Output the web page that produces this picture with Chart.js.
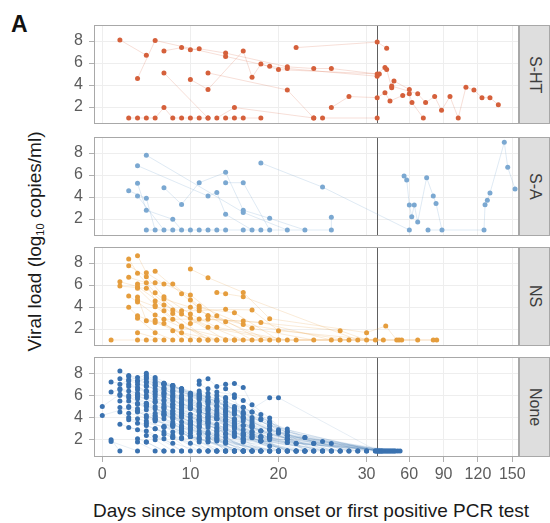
<!DOCTYPE html>
<html><head><meta charset="utf-8">
<script src="https://cdn.jsdelivr.net/npm/chart.js@4/dist/chart.umd.min.js"></script>
<style>
html,body{margin:0;padding:0;background:#fff;}
body{width:550px;height:523px;position:relative;overflow:hidden;font-family:"Liberation Sans",Arial,Helvetica,sans-serif;}
canvas{position:absolute;left:0;}
.strip{position:absolute;left:519px;width:31px;box-sizing:border-box;background:#dedede;border:1px solid #a8a8a8;display:flex;align-items:center;justify-content:center;}
.strip span{writing-mode:vertical-rl;font-size:16px;color:#3d3d3d;line-height:16px;}
#panelLabel{position:absolute;left:11px;top:13px;font-size:23px;line-height:23px;font-weight:bold;color:#111;}
#ytitle{position:absolute;left:-116px;top:232px;width:300px;height:19px;line-height:19px;font-size:19px;color:#1a1a1a;text-align:center;transform:rotate(-90deg);white-space:nowrap;}
#ytitle sub{font-size:11px;vertical-align:-3px;line-height:0;}
#xtitle{position:absolute;left:11px;top:501px;width:600px;height:19px;line-height:19px;font-size:19px;color:#1a1a1a;text-align:center;white-space:nowrap;}
</style>
</head><body>
<div id="panelLabel">A</div>
<div id="ytitle">Viral load (log<sub>10</sub> copies/ml)</div>
<div id="xtitle">Days since symptom onset or first positive PCR test</div>
<script>
// ---------------- data (day, log10 copies/ml) per patient track ----------------
const panelNames = ['S-HT','S-A','NS','None'];
const xTickDays = [0,10,20,30,60,90,120,150];
const xTickLabels = ['0','10','20','30','60','90','120','150'];
const yTicks = [2,4,6,8];

const shtTracks = [
 [[2,8.1],[5,6.7]],
 [[4,4.6],[6,8.05],[14,6.6],[19,5.7],[21,5.5],[32,4.8]],
 [[7,7.1],[9,7.4],[10,7.2],[11,7.3],[14,6.9],[21,5.65],[24,5.5],[26,5.5],[32,5.0],[38.8,5.6],[40.3,5.4],[44.7,3.75],[46.7,4.36],[60.1,3.6]],
 [[7,5.1],[12,1.0]],
 [[10,4.5],[12,3.6],[16,7.1],[17,4.7],[18,5.9],[20,5.4],[33.9,5.0]],
 [[12,5.1],[21,3.55],[24,1.0]],
 [[22,7.4],[32,7.9],[40.3,7.35]],
 [[3,1],[4,1],[5,1],[6,1],[7,1.95],[8,1],[9,1],[10,1],[11,1],[12,1]],
 [[13,1],[15,1.95],[24,1.0]],
 [[14,1],[15,1],[16,1],[18,1]],
 [[25,1],[32,1]],
 [[26,1.95],[28,2.95],[32,2.85],[38.8,3.3],[43.2,2.55],[54.3,3.05],[60.1,3.2],[62.4,2.4],[72.3,1.0]],
 [[44.7,3.9],[67.4,3.2],[74.3,2.4],[82.2,2.95],[88.2,1.7],[95.6,2.95],[102.8,1.0],[109.5,3.8],[116.5,3.55],[123.5,2.85],[130.5,2.85],[137.8,2.2]]
];

const saTracks = [
 [[3,4.57],[5,3.88],[6,1.0]],
 [[4,5.24],[5,2.8],[8,1.97],[9,1.0]],
 [[4,4.1],[7,1.0]],
 [[4,6.85],[12,4.09],[13,4.4],[14,2.43],[17,1.0]],
 [[5,7.8],[16,2.6],[21,1.0]],
 [[7,4.85],[9,3.33],[11,5.3],[14,6.24],[16,2.8],[19,2.06],[23,1.0]],
 [[14,5.3],[16,5.3],[19,1.0]],
 [[18,7.1],[25,4.9],[60.1,1.0]],
 [[5,1],[8,1],[10,1],[11,1],[12,1],[13,1],[14,1],[16,1],[18,1],[26,1],[26,2.15]],
 [[55.5,5.9],[57.8,5.55],[60.1,3.27],[62.2,2.2],[64.4,3.27],[67.4,1.73],[75.2,5.76],[81.0,4.09],[83.4,3.42],[88.6,1.0]],
 [[76.4,1.0],[125.3,1.0],[126.2,3.3],[128.2,3.7],[130.5,4.36],[143.0,8.97],[146.0,6.7],[152.4,4.73]]
];

const nsTracks = [
 [[1,1.0],[4,1.0],[5,1.0],[6,1.0]],
 [[2,6.3],[4,5.85],[7,4.18],[10,2.97],[16,1.0]],
 [[2,5.9],[5,5.7],[8,3.73],[12,2.15],[20,1.0]],
 [[3,8.36],[4,7.06],[6,5.3],[9,3.36],[14,1.0]],
 [[3,7.76],[5,6.76],[7,4.94],[10,3.36],[13,2.15],[21,1.0]],
 [[3,6.7],[5,6.2],[6,4.55],[8,3.42],[12,1.0]],
 [[3,5.0],[4,4.45],[6,3.27],[9,2.15],[15,1.0]],
 [[3,3.97],[4,3.2],[6,2.6],[11,1.0]],
 [[4,8.67],[5,7.12],[7,6.09],[10,5.1],[13,3.2],[18,1.0]],
 [[4,6.09],[6,6.2],[8,6.09],[11,4.09],[17,2.06],[24,1.0]],
 [[4,5.7],[6,4.15],[7,3.67],[9,2.27],[13,1.0]],
 [[4,4.9],[5,2.76],[7,2.5],[10,1.0]],
 [[4,4.64],[6,4.03],[8,2.88],[12,1.0]],
 [[4,2.97],[6,1.67],[8,1.0]],
 [[4,1.67],[7,1.0]],
 [[6,7.24],[9,5.2],[12,3.2],[16,2.42],[28,1.0]],
 [[6,2.8],[9,1.67],[13,1.0]],
 [[7,4.73],[10,3.97],[14,2.67],[19,1.0]],
 [[7,2.88],[11,2.9],[16,2.73],[27,1.85],[30,1.0]],
 [[8,1.85],[9,1.0]],
 [[9,3.67],[11,3.67],[14,3.79],[17,3.73],[20,1.85],[31,1.0]],
 [[10,7.45],[12,6.67],[16,5.33],[19,2.94],[30,1.67],[39.5,2.27],[49.1,1.0]],
 [[10,4.64],[11,3.88],[15,3.48],[20,1.0]],
 [[10,2.5],[12,2.88],[18,2.6],[26,1.0]],
 [[12,3.2],[17,1.0]],
 [[13,5.33],[14,5.2],[16,4.94],[29,1.0]],
 [[11,1.0],[51.1,1.0],[81.0,1.0]],
 [[14,1.0],[53.4,1.0],[84.0,1.0]],
 [[15,1.0],[67.4,1.0]],
 [[22,1.0],[27,1.0],[37.4,1.0]]
];

const noneTracks = [
 [[0,5.0],[2,6.1],[5,5.3],[8,3.9],[12,2.6],[18,1]],
 [[0,4.2],[3,4.9],[6,3.8],[10,2.3],[16,1]],
 [[1,7.2],[3,7.0],[5,6.4],[8,5.0],[11,3.7],[15,2.3],[22,1]],
 [[1,6.3],[2,6.5],[4,6.0],[7,4.9],[10,3.6],[14,1]],
 [[1,2.0],[2,1]],
 [[1,1.85],[4,1]],
 [[2,8.2],[3,7.7],[5,7.2],[7,6.6],[9,5.7],[12,4.4],[15,3.1],[21,1]],
 [[2,7.5],[4,7.3],[6,6.9],[8,6.2],[11,5.0],[14,3.8],[19,2.2],[27,1]],
 [[2,7.0],[3,7.4],[5,7.8],[7,7.0],[10,6.0],[13,4.7],[17,3.2],[25,1]],
 [[2,6.6],[4,6.2],[6,5.6],[9,4.4],[12,3.1],[17,1]],
 [[2,6.0],[3,5.8],[5,5.1],[8,4.1],[11,2.8],[16,1]],
 [[2,5.5],[4,5.2],[7,4.3],[10,3.2],[14,1.9],[20,1]],
 [[2,4.9],[4,4.5],[6,3.9],[9,2.7],[13,1]],
 [[2,4.5],[3,4.0],[5,3.3],[8,2.4],[11,1]],
 [[2,3.4],[4,2.9],[6,2.3],[9,1]],
 [[3,7.8],[4,7.6],[6,7.1],[8,6.6],[11,5.3],[14,4.1],[18,2.8],[26,1]],
 [[3,7.3],[5,6.9],[7,6.3],[9,5.4],[12,4.0],[16,2.6],[23,1]],
 [[3,6.8],[4,6.7],[6,6.3],[9,5.2],[12,3.8],[16,1]],
 [[3,6.4],[5,6.0],[8,5.2],[11,4.1],[15,2.7],[20,1]],
 [[3,6.0],[4,5.7],[7,4.8],[10,3.6],[14,1]],
 [[3,5.5],[5,5.0],[7,4.5],[10,3.4],[13,2.2],[18,1]],
 [[3,5.0],[4,4.8],[6,4.2],[9,3.0],[12,1]],
 [[3,4.4],[5,4.0],[8,3.2],[11,2.1],[15,1]],
 [[3,3.8],[4,3.5],[6,3.0],[8,2.2],[10,1]],
 [[3,3.1],[5,2.8],[7,2.1],[9,1]],
 [[4,7.3],[5,7.5],[7,7.0],[9,6.5],[12,5.4],[15,4.3],[19,2.9],[28,1]],
 [[4,7.0],[6,6.6],[8,6.0],[11,4.9],[14,3.7],[18,2.3],[29,1]],
 [[4,6.5],[5,6.4],[7,5.9],[10,5.0],[13,3.9],[17,2.4],[24,1]],
 [[4,5.9],[6,5.4],[9,4.6],[12,3.5],[16,2.1],[23,1]],
 [[4,5.3],[5,5.1],[8,4.3],[11,3.3],[15,1]],
 [[4,4.6],[6,4.1],[9,3.3],[13,2.0],[19,1]],
 [[4,3.9],[5,3.7],[7,3.1],[10,2.3],[15,1]],
 [[4,2.1],[5,1.8],[7,1]],
 [[4,1.8],[6,1]],
 [[5,8.0],[6,7.6],[8,6.9],[10,6.1],[13,5.5],[16,4.4],[20,2.9],[30,1]],
 [[5,7.6],[7,7.1],[9,6.5],[12,5.8],[15,4.6],[19,3.3],[31,1]],
 [[5,7.2],[6,7.2],[8,6.8],[11,5.9],[14,4.8],[17,3.6],[22,1.7],[33,1]],
 [[5,6.8],[7,6.5],[10,5.6],[13,4.5],[17,3.1],[24,1.7],[36,1]],
 [[5,6.3],[6,6.1],[8,5.6],[11,4.6],[14,3.4],[19,2.0],[38,1]],
 [[5,5.8],[7,5.5],[9,5.0],[12,4.1],[16,2.9],[21,1]],
 [[5,5.3],[6,5.0],[8,4.6],[11,3.7],[14,2.6],[19,1]],
 [[5,4.7],[7,4.3],[10,3.5],[13,2.5],[17,1]],
 [[5,4.2],[6,3.9],[8,3.4],[11,2.6],[14,1.7],[20,1]],
 [[5,3.5],[7,3.2],[9,2.6],[12,1.8],[16,1]],
 [[5,2.4],[6,2.0],[8,1]],
 [[5,1.8],[7,1]],
 [[6,7.4],[7,7.0],[9,6.6],[11,6.1],[14,5.1],[17,4.0],[21,2.7],[32,1]],
 [[6,6.9],[8,6.4],[10,5.9],[13,5.1],[16,3.9],[20,2.6],[34,1]],
 [[6,6.4],[7,6.2],[9,5.8],[12,4.9],[15,3.8],[19,2.5],[25,1.85],[40,1]],
 [[6,5.9],[8,5.5],[10,4.9],[13,3.9],[17,2.2],[23,2.2],[42,1]],
 [[6,5.4],[7,5.2],[9,4.7],[12,3.7],[16,2.4],[22,1]],
 [[6,4.8],[8,4.4],[11,3.8],[14,2.9],[18,1.9],[26,1]],
 [[6,4.4],[7,4.2],[10,3.4],[13,2.4],[18,1]],
 [[6,3.7],[8,3.3],[10,2.8],[13,1.9],[17,1]],
 [[6,3.0],[7,2.7],[9,2.1],[12,1]],
 [[6,2.3],[8,1.7],[11,1]],
 [[7,7.1],[8,6.9],[10,6.0],[12,5.5],[15,4.4],[19,3.0],[27,1]],
 [[7,6.7],[9,6.3],[11,5.7],[14,4.6],[17,3.4],[21,2.4],[44,1]],
 [[7,6.1],[8,5.9],[10,5.4],[13,4.3],[16,3.3],[21,2.1],[35,1]],
 [[7,5.6],[9,5.2],[12,4.6],[15,3.6],[19,2.4],[26,1.67],[46,1]],
 [[7,5.0],[8,4.9],[11,4.2],[14,3.3],[18,2.2],[25,1]],
 [[7,4.5],[9,4.0],[12,3.3],[16,2.1],[24,1.67],[48,1]],
 [[7,3.9],[8,3.6],[10,3.0],[13,2.1],[18,1]],
 [[7,3.2],[9,2.8],[11,2.2],[15,1]],
 [[7,2.5],[8,2.2],[10,1.7],[13,1]],
 [[8,6.9],[9,6.6],[11,6.2],[13,5.7],[16,4.9],[19,3.6],[24,1]],
 [[8,6.4],[10,6.1],[12,5.6],[15,4.8],[18,3.8],[21,2.97],[23,2.21],[50,1]],
 [[8,5.8],[9,5.7],[11,5.2],[14,4.5],[17,3.3],[21,2.4],[29,1]],
 [[8,5.2],[10,4.8],[12,4.3],[15,3.3],[19,2.2],[37,1]],
 [[8,4.6],[9,4.4],[11,3.9],[14,3.0],[18,1]],
 [[8,4.0],[10,3.7],[13,3.0],[16,2.0],[22,1]],
 [[8,3.4],[9,3.1],[12,2.5],[15,1]],
 [[8,2.7],[10,2.3],[12,1.9],[16,1]],
 [[9,6.6],[10,6.2],[12,5.9],[14,5.4],[17,4.5],[21,2.73],[39,1]],
 [[9,6.0],[11,5.6],[13,5.0],[16,4.0],[19,2.9],[30,1]],
 [[9,5.4],[10,5.2],[12,4.7],[15,3.9],[18,2.8],[21,2.06],[41,1]],
 [[9,4.9],[11,4.5],[14,3.8],[17,2.7],[21,1.76],[43,1]],
 [[9,4.2],[10,4.0],[12,3.6],[15,2.6],[20,1]],
 [[9,3.6],[11,3.2],[13,2.7],[16,1.8],[23,1]],
 [[9,2.9],[10,2.6],[12,2.1],[17,1]],
 [[9,2.2],[11,1.8],[14,1]],
 [[10,6.2],[11,6.0],[13,5.5],[15,5.0],[18,3.9],[22,1.67],[45,1]],
 [[10,5.6],[12,5.2],[14,4.6],[17,3.8],[20,2.73],[28,1]],
 [[10,4.9],[11,4.7],[13,4.2],[16,3.3],[19,2.4],[47,1]],
 [[10,4.3],[12,3.9],[15,3.2],[18,2.3],[24,1]],
 [[10,3.7],[11,3.5],[13,3.1],[16,2.4],[21,1]],
 [[10,3.0],[12,2.7],[14,2.2],[19,1]],
 [[10,2.3],[11,2.0],[13,1]],
 [[11,7.3],[12,7.5],[13,6.8],[14,7.0],[15,7.06],[16,6.7],[17,5.15],[19,3.97],[23,1]],
 [[11,7.0],[12,6.6],[13,6.3],[15,6.06],[16,5.55],[18,4.27],[21,2.36],[34,1]],
 [[11,6.4],[12,6.2],[14,5.8],[16,4.94],[17,4.5],[19,3.6],[26,1]],
 [[11,5.8],[13,5.4],[15,4.8],[16,4.5],[19,3.27],[31,1]],
 [[11,5.1],[12,4.8],[14,4.3],[16,4.03],[18,2.82],[20,1]],
 [[11,4.5],[13,4.0],[15,3.5],[17,2.76],[19,2.15],[25,1]],
 [[11,3.8],[12,3.5],[14,3.1],[17,2.2],[19,1.45],[22,1]],
 [[11,3.1],[13,2.8],[15,2.4],[18,1.9],[27,1]],
 [[11,2.5],[12,2.2],[14,1.8],[16,1]],
 [[12,5.4],[14,5.1],[16,4.3],[19,5.79],[20,5.79],[32,1]],
 [[12,4.1],[13,3.9],[15,3.4],[16,2.6],[18,1.9],[21,1]],
 [[13,6.0],[14,5.7],[15,3.0],[17,2.5],[20,1]],
 [[13,3.4],[14,2.5],[16,1.9],[21,2.06],[23,1]],
 [[14,6.6],[15,5.8],[16,3.7],[18,1.9],[21,1.76],[36,1]],
 [[12,1],[13,1],[14,1],[17,1],[19,1],[20,1],[52,1]]
];

// ---------------- presentation ----------------
const allTracks = [shtTracks, saTracks, nsTracks, noneTracks];
const pointColors = ['#d5603b','#7ba8d1','#e59d3d','#3a72b0'];
const lineColors = ['rgba(213,96,59,0.2)','rgba(123,168,209,0.24)','rgba(229,157,61,0.2)','rgba(58,114,176,0.12)'];
const panelTops = [25,137,247,357];
const panelHeights = [99,99,99,100];

// broken x axis: linear days up to the break, compressed after it
const BREAK_L = 31.2, BREAK_R = 32, RIGHT_RATIO = 0.13;
function tx(d){ if(d<=BREAK_L) return d; if(d<BREAK_R) return BREAK_L; return BREAK_L + (d-BREAK_R)*RIGHT_RATIO; }

const deco = {
  id:'deco',
  beforeDatasetsDraw(chart){
    const {ctx, chartArea:a, scales:{x}} = chart;
    const px = Math.round(x.getPixelForValue(BREAK_L)) + 0.5;
    ctx.save(); ctx.strokeStyle='#606060'; ctx.lineWidth=1;
    ctx.beginPath(); ctx.moveTo(px,a.top); ctx.lineTo(px,a.bottom); ctx.stroke(); ctx.restore();
  },
  afterDraw(chart){
    const {ctx, chartArea:a} = chart;
    ctx.save(); ctx.strokeStyle='#a8a8a8'; ctx.lineWidth=1;
    ctx.strokeRect(Math.round(a.left)+0.5, Math.round(a.top)+0.5, Math.round(a.width)-1, Math.round(a.height)-1);
    ctx.restore();
  }
};

const TOPPAD = 6;
allTracks.forEach((tracks, i) => {
  const isLast = i === allTracks.length-1;
  const xH = isLast ? 40 : 4;
  const H = TOPPAD + panelHeights[i] + xH;
  const cv = document.createElement('canvas');
  cv.width = 550; cv.height = H;
  cv.style.top = (panelTops[i]-TOPPAD) + 'px';
  cv.style.width = '550px'; cv.style.height = H + 'px';
  document.body.appendChild(cv);

  const datasets = tracks.map(t => ({
    data: t.map(p => ({x:tx(p[0]), y:p[1]})),
    showLine:true, borderColor:lineColors[i], borderWidth:1, pointRadius:0, pointHoverRadius:0, order:2, tension:0
  }));
  datasets.push({
    data: tracks.flat().map(p => ({x:tx(p[0]), y:p[1]})),
    showLine:false, pointRadius:2.5, pointHoverRadius:2.5, pointBorderWidth:0,
    pointBackgroundColor:pointColors[i], backgroundColor:pointColors[i], borderColor:pointColors[i], order:1
  });

  new Chart(cv, {
    type:'scatter',
    data:{datasets},
    plugins:[deco],
    options:{
      responsive:false, animation:false, devicePixelRatio:1,
      layout:{padding:{left:0,right:31,top:TOPPAD,bottom:0}},
      plugins:{legend:{display:false}, tooltip:{enabled:false}},
      scales:{
        x:{
          type:'linear', min:-0.94, max:47.3,
          afterBuildTicks(s){ s.ticks = xTickDays.map(d => ({value:tx(d)})); },
          afterFit(s){ s.height = xH; s.paddingLeft = 0; s.paddingRight = 0; s.paddingTop = 0; s.paddingBottom = 0; },
          border:{display:false},
          grid:{color:'#eeeeee', lineWidth:1, drawTicks:isLast, tickLength:5, tickColor:'#b0b0b0'},
          ticks:{display:isLast, autoSkip:false, maxRotation:0, minRotation:0, padding:3, color:'#5c5c5c',
                 font:{family:'"Liberation Sans", Arial, sans-serif', size:16},
                 callback:(v, idx) => xTickLabels[idx]}
        },
        y:{
          type:'linear', min:0.455, max:9.455,
          afterBuildTicks(s){ s.ticks = yTicks.map(v => ({value:v})); },
          afterFit(s){ s.width = 94; s.paddingTop = 0; s.paddingBottom = 0; s.paddingLeft = 0; s.paddingRight = 0; },
          border:{display:false},
          grid:{color:'#eeeeee', lineWidth:1, drawTicks:true, tickLength:5, tickColor:'#b0b0b0'},
          ticks:{padding:6, color:'#5c5c5c', font:{family:'"Liberation Sans", Arial, sans-serif', size:16},
                 callback:v => String(v)}
        }
      }
    }
  });

  const st = document.createElement('div');
  st.className = 'strip';
  st.style.top = panelTops[i] + 'px';
  st.style.height = panelHeights[i] + 'px';
  const sp = document.createElement('span');
  sp.textContent = panelNames[i];
  st.appendChild(sp);
  document.body.appendChild(st);
});
</script>
</body></html>
